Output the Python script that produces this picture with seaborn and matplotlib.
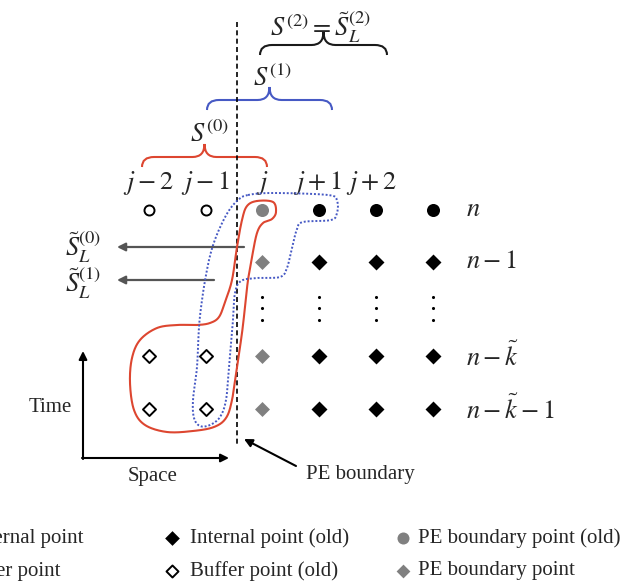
import numpy as np
import pandas as pd
import matplotlib
matplotlib.use("Agg")
import matplotlib.pyplot as plt
import seaborn as sns
from matplotlib.path import Path
from matplotlib.patches import PathPatch

sns.set_theme(style="white")
plt.rcParams["font.family"] = ["Liberation Serif", "DejaVu Serif"]
plt.rcParams["mathtext.fontset"] = "stix"

# ---------------- data ----------------
col_labels = [r"$j-2$", r"$j-1$", r"$j$", r"$j+1$", r"$j+2$"]
col_label_x = [148, 205, 262, 317, 371]
col_x = [149, 206, 262, 319, 376, 433]          # grid columns
row_labels = [r"$n$", r"$n-1$", r"$n-\tilde{k}$", r"$n-\tilde{k}-1$"]
row_y = [210, 262, 356, 409]                     # grid rows
dot_y = [297, 308, 320]                          # vertical ellipsis

# point kind per (row, column)
grid_kinds = [
    ["buf_new", "buf_new", "pe_old", "int_new", "int_new", "int_new"],
    [None, None, "pe_new", "int_old", "int_old", "int_old"],
    ["buf_old", "buf_old", "pe_new", "int_old", "int_old", "int_old"],
    ["buf_old", "buf_old", "pe_new", "int_old", "int_old", "int_old"],
]

legend_row1 = ["Internal point", "Internal point (old)", "PE boundary point (old)"]
legend_row2 = ["Buffer point", "Buffer point (old)", "PE boundary point"]

red_outline = [(257, 201), (273, 202), (276, 212), (272, 219), (263, 223), (257, 233),
               (252, 257), (248, 280), (245, 307), (242, 333), (237, 367), (232, 400),
               (226, 418), (214, 427), (193, 431), (167, 432), (145, 425), (134, 410),
               (130, 383), (132, 358), (140, 340), (157, 328), (177, 325), (197, 325),
               (210, 323), (219, 317), (225, 302), (232, 280), (237, 247), (242, 220),
               (247, 206)]
blue_outline = [(248, 195), (273, 193), (328, 195), (337, 201), (337, 213), (331, 220),
                (303, 222), (297, 229), (292, 248), (287, 268), (280, 277), (257, 278),
                (241, 281), (235, 293), (233, 320), (229, 367), (226, 400), (220, 417),
                (210, 425), (200, 426), (194, 418), (193, 400), (197, 367), (199, 327),
                (202, 300), (206, 275), (211, 252), (218, 232), (228, 212), (238, 200)]

# ---------------- styles ----------------
RED = "#dd4630"
BLUE = "#4659c4"
GREY = "#808080"
FS = 15
MFS = 19

kind_style = {
    "int_new": dict(marker="o", s=88, color="black", edgecolor="black", linewidth=0),
    "buf_new": dict(marker="o", s=52, color="white", edgecolor="black", linewidth=1.4),
    "pe_old": dict(marker="o", s=88, color=GREY, edgecolor=GREY, linewidth=0),
    "int_old": dict(marker="D", s=66, color="black", edgecolor="black", linewidth=0),
    "buf_old": dict(marker="D", s=44, color="white", edgecolor="black", linewidth=1.4),
    "pe_new": dict(marker="D", s=58, color=GREY, edgecolor=GREY, linewidth=0),
}

fig = plt.figure(figsize=(6.2, 5.87), dpi=100)
ax = fig.add_axes([0, 0, 1, 1])

# grid points
recs = []
for r, row in enumerate(grid_kinds):
    for c, k in enumerate(row):
        if k is not None:
            recs.append(dict(x=col_x[c], y=row_y[r], kind=k))
df = pd.DataFrame(recs)
for k, sub in df.groupby("kind"):
    sns.scatterplot(data=sub, x="x", y="y", ax=ax, legend=False, zorder=5, **kind_style[k])

# vertical ellipsis dots
dots = pd.DataFrame([(x, y) for x in col_x[2:] for y in dot_y], columns=["x", "y"])
sns.scatterplot(data=dots, x="x", y="y", ax=ax, marker="o", s=5, color="black",
                linewidth=0, legend=False)

ax.set_xlim(0, 620)
ax.set_ylim(587, 0)
ax.axis("off")


def smooth_closed(pts, n=24):
    P = np.asarray(pts, float)
    N = len(P)
    t = np.linspace(0, 1, n, endpoint=False)[:, None]
    segs = []
    for i in range(N):
        p0, p1, p2, p3 = P[i - 1], P[i], P[(i + 1) % N], P[(i + 2) % N]
        segs.append(0.5 * (2 * p1 + (-p0 + p2) * t + (2 * p0 - 5 * p1 + 4 * p2 - p3) * t ** 2
                           + (-p0 + 3 * p1 - 3 * p2 + p3) * t ** 3))
    out = np.vstack(segs)
    return np.vstack([out, out[:1]])


rc = smooth_closed(red_outline)
ax.plot(rc[:, 0], rc[:, 1], color=RED, lw=1.5, zorder=4)
bc = smooth_closed(blue_outline)
ax.plot(bc[:, 0], bc[:, 1], color=BLUE, lw=1.4, ls=(0, (1, 1)), zorder=4)

# PE boundary dashed line
ax.plot([237, 237], [22, 447], color="black", lw=1.2, ls=(0, (3, 2)), zorder=3)


def brace(x0, x1, y, color, d_end=10, d_tip=13, r=12):
    xm = (x0 + x1) / 2
    verts = [(x0, y + d_end), (x0, y), (x0 + r, y), (xm - r, y), (xm, y), (xm, y - d_tip),
             (xm, y), (xm + r, y), (x1 - r, y), (x1, y), (x1, y + d_end)]
    codes = [Path.MOVETO, Path.CURVE3, Path.CURVE3, Path.LINETO, Path.CURVE3, Path.CURVE3,
             Path.CURVE3, Path.CURVE3, Path.LINETO, Path.CURVE3, Path.CURVE3]
    ax.add_patch(PathPatch(Path(verts, codes), fc="none", ec=color, lw=1.5))


brace(142, 267, 157, RED)
brace(207, 332, 100, BLUE)
brace(260, 387, 45, "#1a1a1a")

ax.text(209, 134, r"$S^{(0)}$", fontsize=19, ha="center", va="center")
ax.text(272, 78, r"$S^{(1)}$", fontsize=19, ha="center", va="center")
ax.text(320, 27, r"$S^{(2)}=\tilde{S}_L^{(2)}$", fontsize=19, ha="center", va="center")

for lab, x in zip(col_labels, col_label_x):
    ax.text(x, 183, lab, fontsize=MFS, ha="center", va="center")
for lab, y in zip(row_labels, row_y):
    ax.text(466, y, lab, fontsize=MFS, ha="left", va="center")

# S_L arrows
arrow_kw = dict(arrowstyle="-|>", color="#555555", lw=1.6, mutation_scale=12,
                shrinkA=0, shrinkB=0)
ax.annotate("", xy=(117, 247), xytext=(244, 247), arrowprops=arrow_kw)
ax.annotate("", xy=(117, 280), xytext=(214, 280), arrowprops=arrow_kw)
ax.text(83, 247, r"$\tilde{S}_L^{(0)}$", fontsize=19, ha="center", va="center")
ax.text(83, 283, r"$\tilde{S}_L^{(1)}$", fontsize=19, ha="center", va="center")

# Time / Space axes
ax_kw = dict(arrowstyle="-|>", color="black", lw=1.5, mutation_scale=12, shrinkA=0, shrinkB=0)
ax.annotate("", xy=(83, 351), xytext=(83, 459), arrowprops=ax_kw)
ax.annotate("", xy=(229, 458), xytext=(82, 458), arrowprops=ax_kw)
ax.text(50, 407, "Time", fontsize=FS, ha="center", va="center")
ax.text(153, 476, "Space", fontsize=FS, ha="center", va="center")

# PE boundary pointer
ax.annotate("", xy=(244, 439), xytext=(296, 466), arrowprops=ax_kw)
ax.text(306, 474, "PE boundary", fontsize=FS, ha="left", va="center")

# legend
leg_y = [538, 571]
ax.text(84, leg_y[0], legend_row1[0], fontsize=FS, ha="right", va="center")
ax.text(61, leg_y[1], legend_row2[0], fontsize=FS, ha="right", va="center")
leg_pts = pd.DataFrame([(172, leg_y[0], "int_old"), (403, leg_y[0], "pe_old"),
                        (172, leg_y[1], "buf_old"), (403, leg_y[1], "pe_new")],
                       columns=["x", "y", "kind"])
for _, rr in leg_pts.iterrows():
    st = dict(kind_style[rr["kind"]])
    st["s"] = st["s"] * 0.85
    ax.scatter([rr["x"]], [rr["y"]], zorder=5, **st)
ax.text(190, leg_y[0], legend_row1[1], fontsize=FS, ha="left", va="center")
ax.text(418, leg_y[0], legend_row1[2], fontsize=FS, ha="left", va="center")
ax.text(190, leg_y[1], legend_row2[1], fontsize=FS, ha="left", va="center")
ax.text(418, leg_y[1], legend_row2[2], fontsize=FS, ha="left", va="center")

fig.savefig("out.png", dpi=100)
